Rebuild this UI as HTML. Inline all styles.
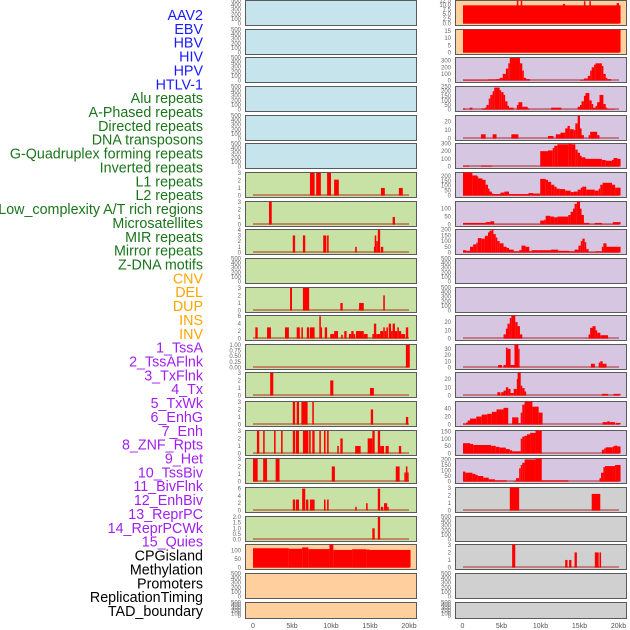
<!DOCTYPE html>
<html><head><meta charset="utf-8"><style>
html,body{margin:0;padding:0;background:#fff;}
svg{display:block;font-family:"Liberation Sans",sans-serif;}
</style></head><body>
<svg id="chart" width="630" height="630" viewBox="0 0 630 630" xmlns="http://www.w3.org/2000/svg"></svg>
<script>
// ---- data ----
const labelNames = ["AAV2","EBV","HBV","HIV","HPV","HTLV-1","Alu repeats","A-Phased repeats","Directed repeats","DNA transposons","G-Quadruplex forming repeats","Inverted repeats","L1 repeats","L2 repeats","Low_complexity A/T rich regions","Microsatellites","MIR repeats","Mirror repeats","Z-DNA motifs","CNV","DEL","DUP","INS","INV","1_TssA","2_TssAFlnk","3_TxFlnk","4_Tx","5_TxWk","6_EnhG","7_Enh","8_ZNF_Rpts","9_Het","10_TssBiv","11_BivFlnk","12_EnhBiv","13_ReprPC","14_ReprPCWk","15_Quies","CPGisland","Methylation","Promoters","ReplicationTiming","TAD_boundary"];
const labelGroups = [0,0,0,0,0,0,1,1,1,1,1,1,1,1,1,1,1,1,1,2,2,2,2,2,3,3,3,3,3,3,3,3,3,3,3,3,3,3,3,4,4,4,4,4];
const xTickLabels = ["0","5kb","10kb","15kb","20kb"];
const xTickValues = [0,5,10,15,20];
const emptyTicks = ["0","100","200","300","400","500"];

// left column panels: ticks, top value, bars [startKb,endKb,value]
const ticksL7=["0","1","2","3"], maxL7=3.05;
const barsL7=[[7.3,7.9,3],[8.1,8.7,3],[9.5,10.0,3],[10.4,11.0,2.1],[16.4,16.9,1],[18.7,19.2,1]];
const ticksL8=["0","1","2","3"], maxL8=3.05;
const barsL8=[[2.05,2.4,3.2],[17.9,18.2,1]];
const ticksL9=["0","1","2","3","4"], maxL9=4.05;
const barsL9=[[5.1,5.4,3],[6.4,6.7,3],[9.0,9.4,3],[9.5,9.7,3],[13.1,13.3,1],[15.5,15.6,1],[15.6,15.8,3],[15.8,16.0,2],[16.0,16.3,4],[16.4,16.7,1]];
const ticksL11=["0","1","2","3"], maxL11=3.05;
const barsL11=[[4.75,5.0,3],[6.4,7.2,3],[11.2,11.5,1],[13.6,14.2,1],[16.7,16.9,2]];
const ticksL12=["0","2","4","6"], maxL12=6.2;
const barsL12=[[0.3,0.6,3],[1.8,2.3,3],[4.1,4.6,3],[5.6,6.0,3],[6.2,6.4,3],[6.9,7.2,3],[7.3,7.9,3],[8.5,8.7,6],[8.7,8.8,3],[9.2,9.5,3],[9.9,10.4,1.2],[10.4,10.9,2],[11.3,11.5,1],[11.7,12.0,2],[12.3,12.6,1.2],[12.6,12.9,2],[12.9,13.1,1.2],[13.2,14.2,2],[14.2,14.7,1.2],[15.3,15.5,1.2],[15.5,15.8,4],[15.8,16.3,1.2],[16.3,16.7,2],[16.7,16.9,3],[16.9,17.1,2],[17.1,17.3,3],[17.4,17.7,4],[17.7,17.9,2],[17.9,18.2,4],[18.2,18.5,2],[18.5,18.7,3],[18.7,19.0,2],[19.0,19.5,1.2],[19.6,19.9,3]];
const ticksL13=["0.00","0.25","0.50","0.75","1.00"], maxL13=1.02;
const barsL13=[[19.6,20.1,1]];
const ticksL14=["0","1","2","3"], maxL14=3.05;
const barsL14=[[2.2,2.6,3],[9.9,10.3,2],[15.0,15.5,1]];
const ticksL15=["0","1","2","3"], maxL15=3.05;
const barsL15=[[5.1,5.4,3],[5.6,5.9,3],[6.2,7.0,3],[7.6,7.8,3],[15.1,15.4,2],[19.6,19.9,1]];
const ticksL16=["0","1","2","3"], maxL16=3.05;
const barsL16=[[0.5,0.8,3],[1.3,1.5,3],[2.7,2.9,3],[3.6,3.8,3],[5.1,5.4,3],[5.5,5.9,3],[6.4,7.1,3],[7.2,7.4,3],[7.6,7.9,3],[8.5,8.7,3],[9.1,9.3,3],[9.5,9.7,3],[10.8,11.0,1],[11.2,11.5,2],[13.1,13.8,1],[14.7,15.0,2],[15.0,15.3,2],[15.3,15.6,3],[16.0,16.3,3],[16.3,16.8,1],[17.0,17.4,1],[18.7,19.0,1]];
const ticksL17=["0","1","2","3"], maxL17=3.05;
const barsL17=[[0,0.6,3],[1.3,1.8,3],[2.9,3.4,3],[10.1,10.5,2],[18.3,18.8,2],[19.4,19.6,1.2],[19.6,19.8,2],[19.8,19.9,1.2]];
const ticksL18=["0","2","4","6"], maxL18=6.3;
const barsL18=[[5.1,5.4,3],[5.5,5.9,3],[6.3,6.7,6],[6.8,7.1,3],[7.3,7.9,3],[9.1,9.3,3],[9.5,9.7,3],[13.1,13.3,1],[14.5,14.7,2],[16.0,16.3,6],[16.4,16.7,1],[16.8,17.2,2],[17.2,17.4,1]];
const ticksL19=["0.0","0.5","1.0","1.5","2.0"], maxL19=2.05;
const barsL19=[[15.3,15.6,1],[16.0,16.3,2]];
const ticksL20=["0","50","100"], maxL20=135;
const barsL20=[[0,4.6,113],[4.6,6.3,110],[6.3,7.1,118],[7.1,9.8,108],[9.8,10.3,135],[10.3,12.7,103],[12.7,14.5,107],[14.5,15.0,105],[15.0,20.2,103]];

// right column panels
const ticksR1=["0.0","2.5","5.0","7.5","10.0","12.5"], maxR1=12.4;
const barsR1=[[0,20.2,9.8],[6.9,7.1,13],[7.4,7.6,13],[12.8,13.1,10.5],[15.5,15.7,12],[16.2,16.4,12],[19.7,20.0,11]];
const ticksR2=["0","5","10","15"], maxR2=16;
const barsR2=[[0,20.2,16]];
const ticksR3=["0","100","200","300"], maxR3=348;
const barsR3=[[0,3.2,10],[3.2,4.2,15],[4.2,4.7,20],[4.7,5.1,40],[5.1,5.5,100],[5.5,5.8,180],[5.8,6.0,260],[6.0,7.3,340],[7.3,7.6,260],[7.6,7.8,150],[7.8,8.1,40],[8.1,8.6,20],[15.0,15.5,10],[15.5,16.0,30],[16.0,16.3,70],[16.3,16.5,150],[16.5,16.8,200],[16.8,17.0,240],[17.0,17.8,260],[17.8,18.0,220],[18.0,18.3,100],[18.3,18.5,40],[18.5,19.0,20]];
const ticksR4=["0","50","100","150","200","250"], maxR4=252;
const barsR4=[[0,0.3,10],[0.85,1.2,20],[2.4,2.8,10],[2.8,3.0,20],[3.0,3.3,50],[3.3,3.5,120],[3.5,3.8,160],[3.8,4.0,200],[4.0,4.7,240],[4.7,4.9,210],[4.9,5.2,190],[5.2,5.4,160],[5.4,5.7,90],[5.7,5.9,40],[5.9,6.5,20],[6.9,7.1,50],[7.1,7.6,80],[7.6,8.3,30],[8.3,8.5,10],[11.3,11.9,20],[11.9,12.6,20],[14.7,15.0,30],[15.0,15.2,50],[15.2,15.5,90],[15.5,15.7,150],[15.7,16.2,180],[16.2,16.5,100],[16.5,16.7,60],[16.7,17.0,20],[17.0,17.2,40],[17.2,17.5,80],[17.5,18.0,160],[18.0,18.3,60],[18.3,18.5,20],[18.5,19.5,5]];
const ticksR5=["0","10","20"], maxR5=27.4;
const barsR5=[[2.3,2.9,5],[3.8,4.3,5],[6.2,7.1,5],[10.9,11.6,3],[11.9,12.5,5],[12.5,13.1,7],[13.1,13.4,12],[13.4,13.7,15],[13.7,14.2,11],[14.2,14.4,10],[14.4,14.7,18],[14.7,15.0,27],[15.0,15.2,12],[15.2,15.5,4],[16.1,16.3,4],[16.3,17.2,8],[17.2,17.5,4]];
const ticksR6=["0","100","200","300"], maxR6=300;
const barsR6=[[0,0.8,10],[2.3,3.7,10],[9.9,10.9,200],[10.9,11.5,210],[11.5,11.7,240],[11.7,12.1,270],[12.1,13.5,290],[13.5,13.9,300],[13.9,14.4,290],[14.4,14.7,220],[14.7,15.0,180],[15.0,15.2,140],[15.2,15.7,120],[15.7,17.8,100],[17.8,18.3,85],[18.3,19.1,75],[19.1,19.3,85],[19.3,19.8,110],[19.8,20.2,100]];
const ticksR7=["0","50","100","150","200"], maxR7=235;
const barsR7=[[0,1.2,235],[1.2,1.8,205],[1.8,1.9,195],[1.9,2.5,175],[2.5,2.9,160],[2.9,3.2,110],[3.2,3.4,70],[3.4,3.7,40],[3.7,3.9,20],[3.9,4.8,15],[4.8,5.3,30],[5.3,5.9,40],[5.9,8.4,15],[8.4,9.0,25],[9.0,9.9,20],[9.9,10.6,170],[10.6,10.9,160],[10.9,11.3,140],[11.3,11.7,110],[11.7,12.0,90],[12.0,12.4,70],[12.4,13.1,65],[13.1,13.8,50],[13.8,14.2,35],[14.2,14.7,40],[14.7,15.1,60],[15.1,15.3,80],[15.3,15.8,90],[15.8,16.9,60],[16.9,17.4,50],[17.4,17.6,70],[17.6,17.9,110],[17.9,19.1,130],[19.1,19.5,110],[19.5,20.2,80]];
const ticksR8=["0","50","100"], maxR8=145;
const barsR8=[[0,2.9,10],[2.9,3.5,15],[3.5,4.0,20],[4.0,9.9,2],[9.9,10.4,25],[10.4,10.6,30],[10.6,11.2,55],[11.2,11.7,50],[11.7,12.1,45],[12.1,13.5,50],[13.5,13.8,60],[13.8,14.1,80],[14.1,14.3,100],[14.3,14.6,130],[14.6,15.0,145],[15.0,15.2,100],[15.2,15.5,60],[15.5,16.2,10],[16.2,16.9,2],[16.9,17.8,10],[17.8,19.2,2],[19.2,20.2,15]];
const ticksR9=["0","50","100","150","200"], maxR9=200;
const barsR9=[[0,0.4,20],[0.4,0.9,15],[0.9,1.3,50],[1.3,1.7,70],[1.7,1.9,85],[1.9,2.4,125],[2.4,2.8,120],[2.8,3.2,145],[3.2,3.4,175],[3.4,3.7,190],[3.7,3.9,200],[3.9,4.2,160],[4.2,4.4,130],[4.4,4.7,100],[4.7,5.2,80],[5.2,5.6,50],[5.6,5.9,40],[5.9,6.5,25],[6.5,7.2,10],[7.2,7.5,20],[7.5,8.0,60],[8.0,8.5,50],[8.5,8.8,10],[8.8,9.7,20],[9.7,11.3,20],[11.3,12.2,25],[12.2,13.6,15],[13.6,14.3,10],[14.3,14.8,25],[14.8,15.1,60],[15.1,15.3,100],[15.3,15.6,120],[15.6,15.8,90],[15.8,16.1,30],[16.1,17.0,5],[17.0,17.8,10],[17.8,18.0,50],[18.0,18.4,80],[18.4,20.2,50]];
const ticksR12=["0","10","20"], maxR12=28;
const barsR12=[[5.2,5.5,5],[5.5,5.7,12],[5.7,6.0,18],[6.0,6.2,25],[6.2,6.7,28],[6.7,7.0,20],[7.0,7.3,15],[7.3,7.6,5],[16.1,16.3,5],[16.3,16.6,13],[16.6,17.0,15],[17.0,17.2,10],[17.2,17.6,7],[17.6,18.6,4]];
const ticksR13=["0","10","20","30"], maxR13=37;
const barsR13=[[4.5,5.0,4],[5.2,5.5,4],[5.5,5.7,32],[5.7,6.1,30],[6.1,6.6,4],[6.6,7.1,37],[7.1,7.2,30],[16.4,16.9,6],[17.4,17.6,8],[17.6,17.9,10],[17.9,18.4,6]];
const ticksR14=["0","10","20"], maxR14=28;
const barsR14=[[4.4,4.8,4],[4.9,5.2,4],[5.2,5.5,6],[5.5,5.8,10],[5.8,6.1,8],[6.1,6.5,3],[6.5,6.9,8],[6.9,7.0,20],[7.0,7.4,28],[7.4,7.6,12],[7.6,7.9,9],[7.9,8.1,5],[17.8,18.6,2],[19.3,20.2,2]];
const ticksR15=["0","20","40"], maxR15=58;
const barsR15=[[0,0.4,2],[0.4,0.6,5],[0.6,0.9,10],[0.9,1.7,15],[1.7,2.4,20],[2.4,3.1,25],[3.1,3.7,27],[3.7,4.3,32],[4.3,5.2,38],[5.2,5.8,42],[5.8,6.3,1],[6.3,7.1,18],[7.1,7.4,3],[7.4,7.6,30],[7.6,7.9,50],[7.9,8.9,58],[8.9,9.7,45],[9.7,10.2,30],[17.9,18.5,6],[18.5,18.8,8],[18.8,19.5,6],[19.6,20.2,4]];
const ticksR16=["0","50","100","150"], maxR16=156;
const barsR16=[[0,0.9,70],[0.9,1.3,65],[1.3,3.6,58],[3.6,4.2,52],[4.2,4.7,45],[4.7,5.5,40],[5.5,6.0,30],[6.0,6.3,22],[6.3,7.4,15],[7.4,7.6,100],[7.6,7.9,115],[7.9,8.2,120],[8.2,8.6,130],[8.6,9.3,140],[9.3,10.1,156],[17.8,18.1,25],[18.1,18.3,35],[18.3,19.2,42],[19.2,19.4,48],[19.4,19.8,53],[19.8,20.2,48]];
const ticksR17=["0","50","100","150","200"], maxR17=209;
const barsR17=[[0,0.3,90],[0.3,1.2,80],[1.2,1.6,70],[1.6,1.9,60],[1.9,2.6,50],[2.6,3.3,35],[3.3,4.1,20],[4.1,5.6,10],[6.5,6.8,5],[6.8,7.2,30],[7.2,7.4,120],[7.4,7.6,150],[7.6,7.9,170],[7.9,9.3,200],[9.3,10.1,209],[10.1,13.5,10],[17.5,17.7,30],[17.7,18.0,80],[18.0,18.2,130],[18.2,19.5,140],[19.5,20.2,150]];
const ticksR18=["0","1","2","3"], maxR18=3.05;
const barsR18=[[6.0,7.2,3.3],[16.5,17.6,2.2]];
const ticksR20=["0","1","2","3"], maxR20=3.05;
const barsR20=[[6.3,6.7,3.3],[13.1,13.4,1],[13.6,13.9,1],[14.3,14.6,2],[16.9,17.4,2],[17.5,17.7,2]];

// ---- drawing ----
const NS="http://www.w3.org/2000/svg";
const svg=document.getElementById('chart');
const groupColors=["#1a1aff","#1a751a","#ffa500","#a020f0","#000000"];
const BLUE="#c6e4ec",GREEN="#c8e2a6",PEACH="#ffd09e",LAV="#d6c6e2",GREY="#d0d0d0";
const leftColors=[BLUE,BLUE,BLUE,BLUE,BLUE,BLUE,GREEN,GREEN,GREEN,GREEN,GREEN,GREEN,GREEN,GREEN,GREEN,GREEN,GREEN,GREEN,GREEN,PEACH,PEACH,PEACH];
const rightColors=[PEACH,PEACH,LAV,LAV,LAV,LAV,LAV,LAV,LAV,LAV,LAV,LAV,LAV,LAV,LAV,LAV,LAV,GREY,GREY,GREY,GREY,GREY];
const leftPanels=[null,null,null,null,null,null,[ticksL7,maxL7,barsL7],[ticksL8,maxL8,barsL8],[ticksL9,maxL9,barsL9],null,[ticksL11,maxL11,barsL11],[ticksL12,maxL12,barsL12],[ticksL13,maxL13,barsL13],[ticksL14,maxL14,barsL14],[ticksL15,maxL15,barsL15],[ticksL16,maxL16,barsL16],[ticksL17,maxL17,barsL17],[ticksL18,maxL18,barsL18],[ticksL19,maxL19,barsL19],[ticksL20,maxL20,barsL20],null,null];
const rightPanels=[[ticksR1,maxR1,barsR1],[ticksR2,maxR2,barsR2],[ticksR3,maxR3,barsR3],[ticksR4,maxR4,barsR4],[ticksR5,maxR5,barsR5],[ticksR6,maxR6,barsR6],[ticksR7,maxR7,barsR7],[ticksR8,maxR8,barsR8],[ticksR9,maxR9,barsR9],null,null,[ticksR12,maxR12,barsR12],[ticksR13,maxR13,barsR13],[ticksR14,maxR14,barsR14],[ticksR15,maxR15,barsR15],[ticksR16,maxR16,barsR16],[ticksR17,maxR17,barsR17],[ticksR18,maxR18,barsR18],null,[ticksR20,maxR20,barsR20],null,null];

function mk(tag,attrs,parent){const e=document.createElementNS(NS,tag);for(const k in attrs)e.setAttribute(k,attrs[k]);(parent||svg).appendChild(e);return e;}

// labels
labelNames.forEach((name,i)=>{
  const t=mk('text',{x:203,y:20+i*13.86,'text-anchor':'end','font-size':'14.3',fill:groupColors[labelGroups[i]]});
  t.textContent=name;
  
  
});

function drawPanel(col,idx,spec,color){
  const px = col===0?245:455;
  const w=171;
  const top = Math.round(idx*28.65);
  const h = idx===21?16:25;
  const base = top + (idx===21?14:23.5);
  const xs = kb => px+8+kb*7.8;
  const g=mk('g',{});
  
  
  mk('rect',{x:px+0.5,y:top+0.5,width:w,height:h,fill:color,stroke:'#5a5a5a','stroke-width':1},g);
  const ticks = spec?spec[0]:emptyTicks;
  const ymax = spec?spec[1]:500;
  const ys = v => base - v/ymax*(base-top-0.5);
  ticks.forEach(tl=>{
    const t=mk('text',{x:px-4,y:ys(parseFloat(tl))+2,'text-anchor':'end','font-size':'6',fill:'#666'},g);
    t.textContent=tl;
    
    
  });
  if(!spec) return;
  mk('rect',{x:xs(0),y:base-1.5,width:xs(20)-xs(0),height:2,fill:'rgba(170,0,0,0.4)'},g);
  spec[2].forEach(b=>{
    const y=Math.max(ys(b[2]),top+0.5);
    const r=mk('rect',{x:xs(b[0]),y:y,width:Math.max(xs(b[1])-xs(b[0]),1.2),height:base-y,fill:'#ff0000'},g);
    
    
  });
}
for(let i=0;i<22;i++){drawPanel(0,i,leftPanels[i],leftColors[i]);drawPanel(1,i,rightPanels[i],rightColors[i]);}

// x axis labels
[253,462.5].forEach((x0,c)=>{
  xTickValues.forEach((v,i)=>{
    const t=mk('text',{x:x0+v*7.8,y:628,'text-anchor':'middle','font-size':'7',fill:'#555'});
    t.textContent=xTickLabels[i];
    
    
  });
});
</script>
</body></html>
